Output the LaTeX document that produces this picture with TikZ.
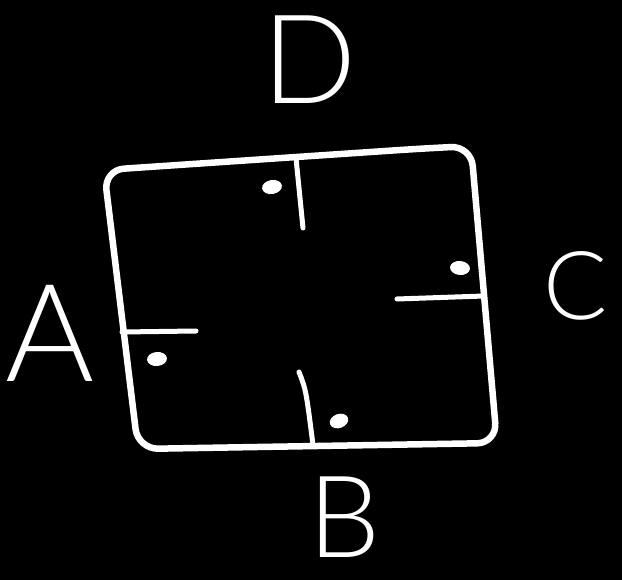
\documentclass[tikz,border=0pt]{standalone}
\usepackage{fontspec}
\setmainfont{Lato Light}
\begin{document}
\begin{tikzpicture}[x=1pt,y=-1pt,
  stroke/.style={draw=white,line width=6.5pt,line cap=round,line join=round},
  tick/.style={draw=white,line width=5pt,line cap=round},
  dotmark/.style={fill=white},
  lbl/.style={text=white,inner sep=0pt,anchor=center}]
\fill[black] (0,0) rectangle (622,580);
\useasboundingbox (0,0) rectangle (622,580);
% square corners
\coordinate (tl) at (104,170);
\coordinate (tm) at (415,149);
\coordinate (tr) at (471,146);
\coordinate (br) at (497,443);
\coordinate (bl) at (138,449);
\draw[stroke,rounded corners=20pt] (tl) -- (tm) -- (tr) -- (br) -- (bl) -- cycle;
% ticks
\coordinate (t1) at (296,158); \coordinate (t2) at (303,228);
\coordinate (r1) at (397,299); \coordinate (r2) at (484,296);
\coordinate (l1) at (122,332); \coordinate (l2) at (196,331);
\coordinate (b1) at (299,372); \coordinate (b2) at (313,445);
\draw[tick] (t1) -- (t2);
\draw[tick] (r1) -- (r2);
\draw[tick] (l1) -- (l2);
\draw[tick] (b1) .. controls (306,390) .. (b2);
% dots
\fill[dotmark,rotate around={10:(272,187)}] (272,187) ellipse (10pt and 7pt);
\fill[dotmark,rotate around={-5:(460,268)}] (460,268) ellipse (10pt and 7pt);
\fill[dotmark,rotate around={5:(157,359)}] (157,359) ellipse (10pt and 7pt);
\fill[dotmark,rotate around={20:(339,421)}] (339,421) ellipse (9.5pt and 7pt);
% labels
\node[lbl,font=\fontsize{124}{124}\selectfont] (D) at (310,60) {D};
\node[lbl,font=\fontsize{95}{95}\selectfont] (C) at (576,286) {C};
\node[lbl,font=\fontsize{136}{136}\selectfont] (A) at (50,333) {A};
\node[lbl,font=\fontsize{114}{114}\selectfont] (B) at (345,517) {B};
\end{tikzpicture}
\end{document}
